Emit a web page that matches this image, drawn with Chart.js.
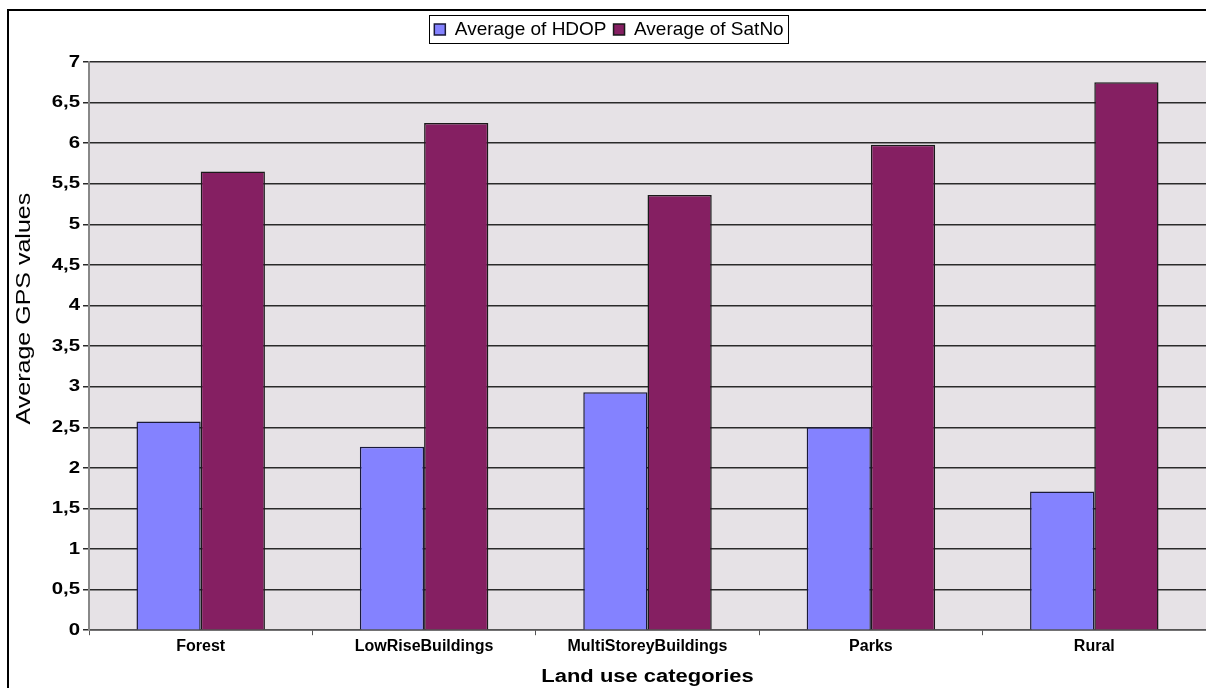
<!DOCTYPE html>
<html><head><meta charset="utf-8">
<script src="https://cdn.jsdelivr.net/npm/chart.js@4/dist/chart.umd.min.js"></script>
<style>html,body{margin:0;padding:0;background:#fff;}#wrap{width:1206px;height:688px;position:relative;}</style>
</head><body><div id="wrap"><canvas id="c"></canvas></div>
<script>
const categories = ["Forest", "LowRiseBuildings", "MultiStoreyBuildings", "Parks", "Rural"];
const hdopValues = [2.57, 2.26, 2.93, 2.50, 1.71];
const satNoValues = [5.65, 6.25, 5.36, 5.98, 6.75];
const seriesNames = ["Average of HDOP", "Average of SatNo"];
const yTicksMin = 0, yTicksMax = 7, yTickStep = 0.5;

// wraps a scale draw method in a stretch transform (glyphs in the reference are wider)
function wrapStretch(obj, name, getT) {
  if (!obj || obj['_wt_' + name]) return;
  const orig = obj[name];
  obj[name] = function () {
    const ctx = this.ctx;
    const t = getT(this);
    ctx.save();
    ctx.translate(t.cx, t.cy);
    ctx.scale(t.sx, t.sy);
    ctx.translate(-t.cx + (t.dx || 0), -t.cy + (t.dy || 0));
    const r = orig.apply(this, arguments);
    ctx.restore();
    return r;
  };
  obj['_wt_' + name] = true;
}

const frame = {
  id: 'frame',
  beforeLayout(chart) {
    const lg = chart.legend;
    if (lg && !lg._patchedFit) {
      const f = lg.fit;
      lg.fit = function () { f.call(this); this.height += 13; };
      lg._patchedFit = true;
    }
  },
  beforeDraw(chart) {
    const {ctx, chartArea: a} = chart;
    wrapStretch(chart.scales.y, 'drawTitle', s => ({cx: s.left, cy: (s.top + s.bottom) / 2, sx: 1, sy: 1.25, dy: -30}));
    wrapStretch(chart.scales.y, 'drawLabels', s => ({cx: s.right - 9, cy: 0, sx: 1.2, sy: 1}));
    wrapStretch(chart.scales.x, 'drawTitle', s => ({cx: (s.left + s.right) / 2, cy: 0, sx: 1.22, sy: 1}));
    wrapStretch(chart.scales.x, 'drawLabels', s => ({cx: (s.left + s.right) / 2, cy: 0, sx: 1, sy: 1}));
    ctx.save();
    ctx.fillStyle = '#E6E2E6';
    ctx.fillRect(a.left, a.top, a.right - a.left, a.bottom - a.top);
    ctx.restore();
  },
  afterDraw(chart) {
    const ctx = chart.ctx;
    ctx.save();
    ctx.strokeStyle = '#000';
    ctx.lineWidth = 2;
    ctx.beginPath();
    ctx.moveTo(8, 700); ctx.lineTo(8, 10); ctx.lineTo(1210, 10);
    ctx.stroke();
    const lg = chart.legend;
    if (lg && lg.legendHitBoxes && lg.legendHitBoxes.length) {
      const hb = lg.legendHitBoxes;
      const x0 = hb[0].left - 5;
      const last = hb[hb.length - 1];
      const x1 = last.left + last.width + 5;
      const y0 = hb[0].top - 5, y1 = hb[0].top + hb[0].height + 4;
      ctx.lineWidth = 1;
      ctx.strokeRect(Math.round(x0) + 0.5, Math.round(y0) + 0.5, Math.round(x1 - x0), Math.round(y1 - y0));
    }
    ctx.restore();
  }
};

new Chart(document.getElementById('c'), {
  type: 'bar',
  data: {
    labels: categories,
    datasets: [
      {label: seriesNames[0], data: hdopValues, backgroundColor: '#8482FF', borderColor: '#1a1a3a', borderWidth: 1.5},
      {label: seriesNames[1], data: satNoValues, backgroundColor: '#851F62', borderColor: '#1a1a1a', borderWidth: 1.5}
    ]
  },
  options: {
    responsive: true, maintainAspectRatio: false, animation: false,
    devicePixelRatio: 1,
    layout: {padding: {left: 12, right: 0, top: 13, bottom: 0}},
    datasets: {bar: {categoryPercentage: 0.575, barPercentage: 1.0}},
    plugins: {
      legend: {
        position: 'top',
        labels: {
          font: {family: 'Liberation Sans, Arial', size: 19},
          color: '#000', boxWidth: 11, boxHeight: 11, padding: 7
        }
      },
      tooltip: {enabled: false}
    },
    scales: {
      x: {
        offset: true,
        grid: {offset: true, drawOnChartArea: false, drawTicks: true, tickLength: 5, color: '#555'},
        border: {color: '#555', width: 1.5},
        ticks: {font: {family: 'Liberation Sans, Arial', size: 16, weight: 'bold'}, color: '#000', padding: 2},
        title: {display: true, text: 'Land use categories', font: {family: 'Liberation Sans, Arial', size: 18, weight: 'bold'}, color: '#000', padding: {top: 8, bottom: 0}}
      },
      y: {
        min: yTicksMin, max: yTicksMax,
        afterFit(s) { s.width = 77; },
        grid: {color: '#2a2a2a', lineWidth: 1.5, tickLength: 6},
        border: {color: '#888', width: 2},
        ticks: {stepSize: yTickStep, font: {family: 'Liberation Sans, Arial', size: 17, weight: 'bold'}, color: '#000', padding: 3,
          callback: v => String(v).replace('.', ',')},
        title: {display: true, text: 'Average GPS values', font: {family: 'Liberation Sans, Arial', size: 20}, color: '#000', padding: {top: 0, bottom: 0}}
      }
    }
  },
  plugins: [frame]
});
</script></body></html>
